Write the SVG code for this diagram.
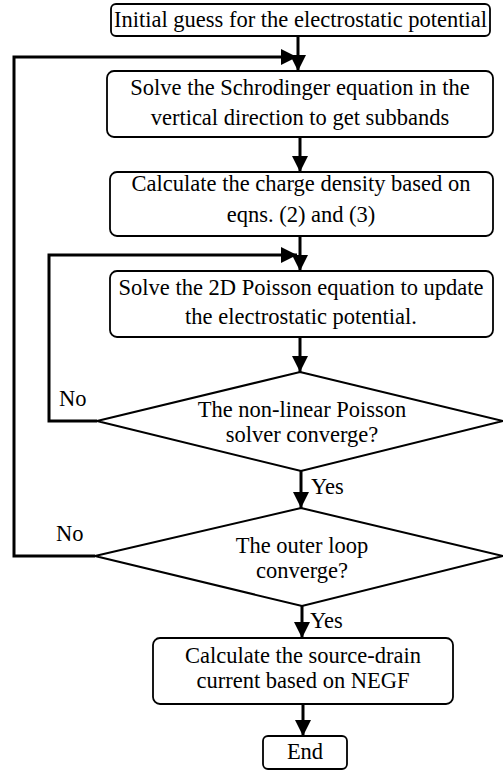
<svg xmlns="http://www.w3.org/2000/svg" width="503" height="771" viewBox="0 0 503 771">
<style>
.box{fill:#fff;stroke:#000;stroke-width:1.8}
.dia{fill:#fff;stroke:#000;stroke-width:2}
.t{font-family:"Liberation Serif","Times New Roman",serif;font-size:22.5px;fill:#000;text-anchor:middle}
.tl{font-family:"Liberation Serif","Times New Roman",serif;font-size:22.5px;fill:#000}
.c{fill:none;stroke:#000;stroke-width:3}
</style>
<defs>
<marker id="ah" markerUnits="userSpaceOnUse" markerWidth="16" markerHeight="16" refX="16" refY="8" orient="auto">
<path d="M0,0 L16,8 L0,16 z" fill="#000"/>
</marker>
</defs>
<g id="connectors">
<path class="c" d="M298,36 V71" marker-end="url(#ah)"/>
<path class="c" d="M95,556 H14 V57 H297" marker-end="url(#ah)"/>
<path class="c" d="M300,137 V172" marker-end="url(#ah)"/>
<path class="c" d="M300,236 V271" marker-end="url(#ah)"/>
<path class="c" d="M97,421 H49 V255 H297" marker-end="url(#ah)"/>
<path class="c" d="M300,337 V372" marker-end="url(#ah)"/>
<path class="c" d="M301,471 V508" marker-end="url(#ah)"/>
<path class="c" d="M302,606 V638" marker-end="url(#ah)"/>
<path class="c" d="M303,704 V736" marker-end="url(#ah)"/>
<text class="tl" x="59" y="406">No</text>
<text class="tl" x="311" y="494">Yes</text>
<text class="tl" x="56" y="541">No</text>
<text class="tl" x="310" y="628">Yes</text>
</g>
<g id="n1">
<rect class="box" x="111" y="4" width="379" height="32" rx="5"/>
<text class="t" x="300.5" y="27">Initial guess for the electrostatic potential</text>
</g>
<g id="n2">
<rect class="box" x="107" y="71" width="386" height="66" rx="7"/>
<text class="t" x="300" y="95">Solve the Schrodinger equation in the</text>
<text class="t" x="300" y="125">vertical direction to get subbands</text>
</g>
<g id="n3">
<rect class="box" x="110" y="172" width="383" height="64" rx="7"/>
<text class="t" x="301" y="191">Calculate the charge density based on</text>
<text class="t" x="301" y="222">eqns. (2) and (3)</text>
</g>
<g id="n4">
<rect class="box" x="110" y="271" width="383" height="66" rx="7"/>
<text class="t" x="301" y="295">Solve the 2D Poisson equation to update</text>
<text class="t" x="301" y="324">the electrostatic potential.</text>
</g>
<g id="d1">
<polygon class="dia" points="300,372 503,421 301,471 97,421"/>
<text class="t" x="302" y="417">The non-linear Poisson</text>
<text class="t" x="302" y="442">solver converge?</text>
</g>
<g id="d2">
<polygon class="dia" points="301,508 503,556 302,606 95,556"/>
<text class="t" x="302" y="553">The outer loop</text>
<text class="t" x="302" y="578">converge?</text>
</g>
<g id="n5">
<rect class="box" x="153" y="638" width="300" height="66" rx="7"/>
<text class="t" x="303" y="663">Calculate the source-drain</text>
<text class="t" x="303" y="688">current based on NEGF</text>
</g>
<g id="n6">
<rect class="box" x="263" y="736" width="84" height="33" rx="5"/>
<text class="t" x="305" y="759">End</text>
</g>
</svg>
